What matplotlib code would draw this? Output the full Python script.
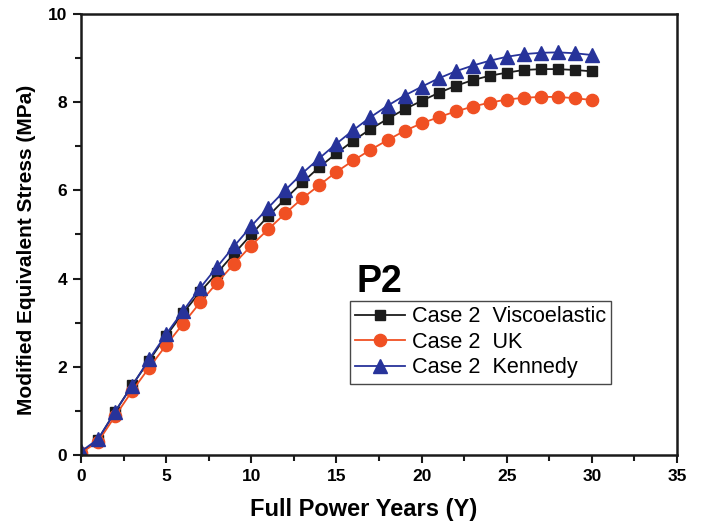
import matplotlib
matplotlib.use("Agg")
import matplotlib.pyplot as plt
from matplotlib.ticker import MultipleLocator

plt.rcParams['font.family'] = ['Liberation Sans', 'DejaVu Sans']

# full power years
years = list(range(0, 31))

# modified equivalent stress (MPa)
visco = [0.05, 0.35, 0.98, 1.58, 2.14, 2.70, 3.22, 3.70, 4.13, 4.57,
         5.00, 5.42, 5.81, 6.18, 6.53, 6.84, 7.13, 7.39, 7.62, 7.84,
         8.03, 8.21, 8.37, 8.50, 8.60, 8.67, 8.73, 8.75, 8.75, 8.73, 8.70]
uk = [0.05, 0.30, 0.88, 1.45, 1.98, 2.49, 2.98, 3.46, 3.91, 4.34,
      4.75, 5.12, 5.48, 5.82, 6.12, 6.42, 6.68, 6.92, 7.14, 7.35,
      7.52, 7.66, 7.79, 7.90, 7.99, 8.06, 8.10, 8.12, 8.12, 8.09, 8.05]
kennedy = [0.08, 0.36, 0.98, 1.57, 2.17, 2.74, 3.27, 3.79, 4.27, 4.74,
           5.19, 5.61, 6.01, 6.39, 6.73, 7.06, 7.37, 7.66, 7.92, 8.15,
           8.35, 8.54, 8.70, 8.83, 8.94, 9.03, 9.09, 9.12, 9.13, 9.11, 9.07]

labels = ['Case 2  Viscoelastic', 'Case 2  UK', 'Case 2  Kennedy']

fig = plt.figure(figsize=(7.02, 5.28), dpi=100)
ax = fig.add_axes([0.1154, 0.1383, 0.849, 0.8352])

ax.plot(years, visco, color='#1c1c1c', lw=1.3, marker='s', ms=7.8, label=labels[0])
ax.plot(years, uk, color='#f05023', lw=1.3, marker='o', ms=8.8, label=labels[1])
ax.plot(years, kennedy, color='#27339a', lw=1.3, marker='^', ms=9.8, label=labels[2])

ax.set_xlim(0, 35)
ax.set_ylim(0, 10)
ax.xaxis.set_major_locator(MultipleLocator(5))
ax.xaxis.set_minor_locator(MultipleLocator(2.5))
ax.yaxis.set_major_locator(MultipleLocator(2))
ax.yaxis.set_minor_locator(MultipleLocator(1))

for s in ax.spines.values():
    s.set_linewidth(1.8)
    s.set_color('#1a1a1a')
ax.tick_params(which='both', direction='out', top=False, right=False, width=1.5, color='#1a1a1a')
ax.tick_params(which='major', length=6, labelsize=12.5, pad=4)
ax.tick_params(which='minor', length=4)
for lab in ax.get_xticklabels() + ax.get_yticklabels():
    lab.set_fontweight('bold')

ax.set_xlabel('Full Power Years (Y)', fontsize=17, fontweight='bold')
ax.set_ylabel('Modified Equivalent Stress (MPa)', fontsize=15, fontweight='bold')
ax.xaxis.set_label_coords(0.475, -0.097)
ax.yaxis.set_label_coords(-0.076, 0.465)

ax.text(0.462, 0.37, 'P2', transform=ax.transAxes, fontsize=27, fontweight='bold',
        va='baseline', ha='left')

leg = ax.legend(loc='upper left', bbox_to_anchor=(0.451, 0.349), borderaxespad=0,
                fontsize=15.6, frameon=True, fancybox=False, handlelength=2.3,
                handletextpad=0.3, borderpad=0.25, labelspacing=0.2)
leg.get_frame().set_edgecolor('#1a1a1a')
leg.get_frame().set_linewidth(1.0)

fig.savefig('out.png', dpi=100)
